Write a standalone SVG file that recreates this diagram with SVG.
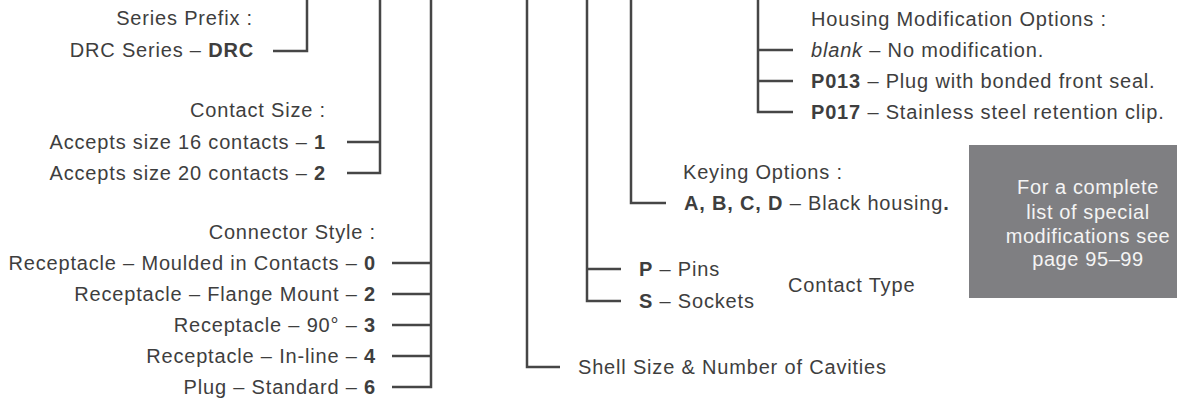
<svg xmlns="http://www.w3.org/2000/svg" width="1177" height="401" viewBox="0 0 1177 401">
<style>
text{font-family:"Liberation Sans",Arial,sans-serif;font-size:20px;fill:#3e3e3e;letter-spacing:0.82px}
.e{text-anchor:end}
.b{font-weight:bold}
.i{font-style:italic}
.w{fill:#f4f4f4;text-anchor:middle;letter-spacing:0.6px}
.c{fill:none;stroke:#464646;stroke-width:2.5}
</style>
<rect width="1177" height="401" fill="#ffffff"/>
<g id="connectors">
<path class="c" d="M273 51H307V0"/>
<path class="c" d="M347 142H380M347 173H380V0"/>
<path class="c" d="M392 263H431M392 294H431M392 325H431M392 356H431M392 387H431V0"/>
<path class="c" d="M560 367H527V0"/>
<path class="c" d="M621 269H587M621 301H587V0"/>
<path class="c" d="M666 203H631V0"/>
<path class="c" d="M793 50H758M793 81H758M793 112H758V0"/>
</g>
<g id="series-prefix">
<text class="e" x="253" y="25">Series Prefix :</text>
<text class="e" x="254" y="57">DRC Series – <tspan class="b">DRC</tspan></text>
</g>
<g id="contact-size">
<text class="e" x="326" y="117">Contact Size :</text>
<text class="e" x="326" y="149">Accepts size 16 contacts – <tspan class="b">1</tspan></text>
<text class="e" x="326" y="180">Accepts size 20 contacts – <tspan class="b">2</tspan></text>
</g>
<g id="connector-style">
<text class="e" x="376" y="239">Connector Style :</text>
<text class="e" x="376" y="270">Receptacle – Moulded in Contacts – <tspan class="b">0</tspan></text>
<text class="e" x="376" y="301">Receptacle – Flange Mount – <tspan class="b">2</tspan></text>
<text class="e" x="376" y="332">Receptacle – 90° – <tspan class="b">3</tspan></text>
<text class="e" x="376" y="363">Receptacle – In-line – <tspan class="b">4</tspan></text>
<text class="e" x="376" y="394">Plug – Standard – <tspan class="b">6</tspan></text>
</g>
<g id="shell-size">
<text x="578" y="374">Shell Size &amp; Number of Cavities</text>
</g>
<g id="contact-type">
<text x="639" y="276"><tspan class="b">P</tspan> – Pins</text>
<text x="639" y="308"><tspan class="b">S</tspan> – Sockets</text>
<text x="788" y="292">Contact Type</text>
</g>
<g id="keying-options">
<text x="683" y="179">Keying Options :</text>
<text x="684" y="210"><tspan class="b">A, B, C, D</tspan> – Black housing<tspan class="b">.</tspan></text>
</g>
<g id="housing-modification">
<text x="811" y="26">Housing Modification Options :</text>
<text x="811" y="57"><tspan class="i">blank</tspan> – No modification.</text>
<text x="811" y="88"><tspan class="b">P013</tspan> – Plug with bonded front seal.</text>
<text x="811" y="119"><tspan class="b">P017</tspan> – Stainless steel retention clip.</text>
</g>
<g id="note-box">
<rect x="969" y="145" width="208" height="153" fill="#7f7f82"/>
<text class="w" x="1088" y="194">For a complete</text>
<text class="w" x="1088" y="219">list of special</text>
<text class="w" x="1088" y="243">modifications see</text>
<text class="w" x="1088" y="266">page 95–99</text>
</g>
</svg>
